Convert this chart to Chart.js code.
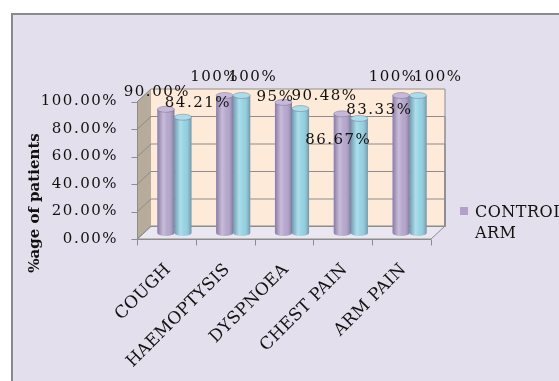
<!DOCTYPE html>
<html><head><meta charset="utf-8">
<script src="https://cdn.jsdelivr.net/npm/chart.js@4/dist/chart.umd.min.js"></script>
<style>
html,body{margin:0;padding:0;background:#fff;overflow:hidden;width:559px;height:381px;}
#wrap{position:absolute;left:11px;top:13px;width:546px;height:366px;border-left:2px solid #8a8a8a;border-top:2px solid #8a8a8a;background:#e4dfec;}
canvas{display:block;}
</style></head>
<body>
<div id="wrap"><canvas id="c" width="546" height="366"></canvas></div>
<script>
const categories = ['COUGH', 'HAEMOPTYSIS', 'DYSPNOEA', 'CHEST PAIN', 'ARM PAIN'];
const controlArm = [90, 100, 95, 86.67, 100];
const studyArm = [84.21, 100, 90.48, 83.33, 100];
const controlLabels = ['90.00%', '100%', '95%', '86.67%', '100%'];
const studyLabels = ['84.21%', '100%', '90.48%', '83.33%', '100%'];
const yTickLabels = ['0.00%', '20.00%', '40.00%', '60.00%', '80.00%', '100.00%'];
const seriesNames = ['CONTROL ARM', 'STUDY ARM'];

// label nudges (style only: offsets of each value label from its bar top)
const controlNudge = [[-9,-17],[-10,-18],[-8,-5],[-4,26],[-8,-18]];
const studyNudge = [[15,-14],[11,-18],[24,-12],[20,-8],[20,-18]];

const PURPLE = '#b2a2ca', CYAN = '#8fd0e1';
const FONT = 'DejaVu Serif';
const SPACING = '1.5px';
const BACK = {dx: 6, dy: -7}, FRONT = {dx: -8, dy: 6};

function setSpacing(chart){ chart.ctx.letterSpacing = SPACING; }

const frame3d = {
  id: 'frame3d',
  beforeUpdate: setSpacing, beforeLayout: setSpacing, beforeDraw: setSpacing,
  beforeDatasetsDraw(chart){
    const ctx = chart.ctx, ys = chart.scales.y;
    const L = chart.chartArea.left, R = chart.chartArea.right;
    const y0 = ys.getPixelForValue(0), y1 = ys.getPixelForValue(100);
    ctx.save();
    ctx.letterSpacing = '0px';
    ctx.fillStyle = '#b7ab9c';
    ctx.beginPath();
    ctx.moveTo(L+FRONT.dx, y1+FRONT.dy); ctx.lineTo(L+BACK.dx, y1+BACK.dy);
    ctx.lineTo(L+BACK.dx, y0+BACK.dy); ctx.lineTo(L+FRONT.dx, y0+FRONT.dy); ctx.closePath();
    ctx.fill();
    ctx.fillStyle = '#fdead9';
    ctx.fillRect(L+BACK.dx, y1+BACK.dy, R-L, y0-y1);
    ctx.fillStyle = '#ebe7f0';
    ctx.beginPath();
    ctx.moveTo(L+FRONT.dx, y0+FRONT.dy); ctx.lineTo(R+FRONT.dx, y0+FRONT.dy);
    ctx.lineTo(R+BACK.dx, y0+BACK.dy); ctx.lineTo(L+BACK.dx, y0+BACK.dy); ctx.closePath();
    ctx.fill();
    ctx.strokeStyle = '#8c8c8c'; ctx.lineWidth = 1;
    ctx.stroke();
    ys.ticks.forEach(t => {
      const y = ys.getPixelForValue(t.value);
      ctx.beginPath();
      ctx.moveTo(L+FRONT.dx, y+FRONT.dy+0.5);
      ctx.lineTo(L+BACK.dx, y+BACK.dy+0.5);
      ctx.lineTo(R+BACK.dx, y+BACK.dy+0.5);
      if (t.value > 0) ctx.lineTo(R+BACK.dx, y0+BACK.dy+0.5);
      ctx.stroke();
    });
    const fx = Math.round(L+FRONT.dx)+0.5;
    ctx.beginPath();
    ctx.moveTo(fx, y1+FRONT.dy); ctx.lineTo(fx, y0+FRONT.dy);
    ys.ticks.forEach(t => {
      const y = Math.round(ys.getPixelForValue(t.value)+FRONT.dy)+0.5;
      ctx.moveTo(fx-6, y); ctx.lineTo(fx, y);
    });
    ctx.stroke();
    const fy = Math.round(y0+FRONT.dy)+0.5;
    ctx.beginPath();
    ctx.moveTo(L+FRONT.dx, fy); ctx.lineTo(R+FRONT.dx, fy);
    const n = categories.length, w = (R-L)/n;
    for (let i=0;i<=n;i++){
      const x = Math.round(L + i*w + FRONT.dx)+0.5;
      ctx.moveTo(x, fy); ctx.lineTo(x, fy+6);
    }
    ctx.stroke();
    ctx.restore();
  },
  afterDatasetsDraw(chart){
    const ctx = chart.ctx;
    ctx.save();
    chart.data.datasets.forEach((ds, di) => {
      const meta = chart.getDatasetMeta(di);
      const base = ds.backgroundColor;
      meta.data.forEach(el => {
        const {x, y, width, base: b} = el.getProps(['x','y','width','base'], true);
        const l = x - width/2, r = x + width/2;
        ctx.fillStyle = base;
        ctx.beginPath(); ctx.ellipse(x, b, width/2, 3, 0, 0, Math.PI); ctx.fill();
        const g = ctx.createLinearGradient(l, 0, r, 0);
        g.addColorStop(0, 'rgba(40,30,70,0.30)');
        g.addColorStop(0.35, 'rgba(255,255,255,0.28)');
        g.addColorStop(0.6, 'rgba(255,255,255,0.05)');
        g.addColorStop(1, 'rgba(30,40,70,0.35)');
        ctx.fillStyle = g;
        ctx.beginPath();
        ctx.rect(l, y, width, b - y);
        ctx.ellipse(x, b, width/2, 3, 0, 0, Math.PI);
        ctx.fill();
        ctx.fillStyle = base;
        ctx.beginPath(); ctx.ellipse(x, y, width/2, 3, 0, 0, Math.PI*2); ctx.fill();
        ctx.fillStyle = 'rgba(255,255,255,0.25)';
        ctx.fill();
        ctx.strokeStyle = 'rgba(60,60,90,0.35)';
        ctx.lineWidth = 0.8; ctx.stroke();
      });
    });
    ctx.font = '15px "' + FONT + '"';
    ctx.letterSpacing = SPACING;
    ctx.fillStyle = '#111';
    ctx.textAlign = 'center'; ctx.textBaseline = 'middle';
    const texts = [controlLabels, studyLabels], nudges = [controlNudge, studyNudge];
    chart.data.datasets.forEach((ds, di) => {
      chart.getDatasetMeta(di).data.forEach((el, i) => {
        ctx.fillText(texts[di][i], el.x + nudges[di][i][0], el.y + nudges[di][i][1]);
      });
    });
    ctx.restore();
  },
  afterDraw(chart){
    const ctx = chart.ctx, ys = chart.scales.y, xs = chart.scales.x;
    // category labels, rotated 45 degrees, ending under each category
    ctx.save();
    ctx.font = '17px "' + FONT + '"';
    ctx.letterSpacing = '0.3px';
    ctx.fillStyle = '#111';
    ctx.textAlign = 'right'; ctx.textBaseline = 'middle';
    chart.data.labels.forEach((lab, i) => {
      ctx.save();
      ctx.translate(xs.getPixelForTick(i) - 6, chart.chartArea.bottom + 34);
      ctx.rotate(-Math.PI/4);
      ctx.fillText(lab, 0, 0);
      ctx.restore();
    });
    ctx.restore();
    // axis title
    ctx.save();
    ctx.font = 'bold 15px "' + FONT + '"';
    ctx.letterSpacing = '0px';
    ctx.fillStyle = '#111';
    ctx.textAlign = 'center'; ctx.textBaseline = 'middle';
    ctx.translate(22, 188);
    ctx.rotate(-Math.PI/2);
    ctx.fillText('%age of patients', 0, 0);
    ctx.restore();
    // legend
    ctx.save();
    const lx = chart.chartArea.right + 21, ly = ys.getPixelForValue(0) - 26;
    ctx.fillStyle = PURPLE;
    ctx.fillRect(lx, ly, 8, 8);
    ctx.font = '16px "' + FONT + '"';
    ctx.letterSpacing = '0.5px';
    ctx.fillStyle = '#111';
    ctx.textAlign = 'left'; ctx.textBaseline = 'alphabetic';
    const words = chart.data.datasets[0].label.split(' ');
    ctx.fillText(words[0], lx + 15, ly + 10);
    ctx.fillText(words.slice(1).join(' '), lx + 15, ly + 31);
    ctx.restore();
  }
};

new Chart(document.getElementById('c'), {
  type: 'bar',
  data: {
    labels: categories,
    datasets: [
      {label: seriesNames[0], data: controlArm, backgroundColor: PURPLE, borderWidth: 0},
      {label: seriesNames[1], data: studyArm, backgroundColor: CYAN, borderWidth: 0}
    ]
  },
  options: {
    responsive: false, animation: false, devicePixelRatio: 1,
    datasets: {bar: {categoryPercentage: 0.58, barPercentage: 1}},
    layout: {padding: {top: 80.5, right: 120, left: 0, bottom: 0}},
    plugins: {legend: {display: false}, tooltip: {enabled: false}},
    scales: {
      x: {
        grid: {display: false, drawTicks: false}, border: {display: false},
        ticks: {display: false},
        afterFit(s){ s.height = 148; }
      },
      y: {
        min: 0, max: 100,
        grid: {display: false, drawTicks: false}, border: {display: false},
        ticks: {stepSize: 20, padding: 27, labelOffset: 6,
                font: {family: FONT, size: 15}, color: '#111',
                callback: (v, i) => yTickLabels[i]},
        afterFit(s){ s.width = 132; }
      }
    }
  },
  plugins: [frame3d]
});
</script>
</body></html>
